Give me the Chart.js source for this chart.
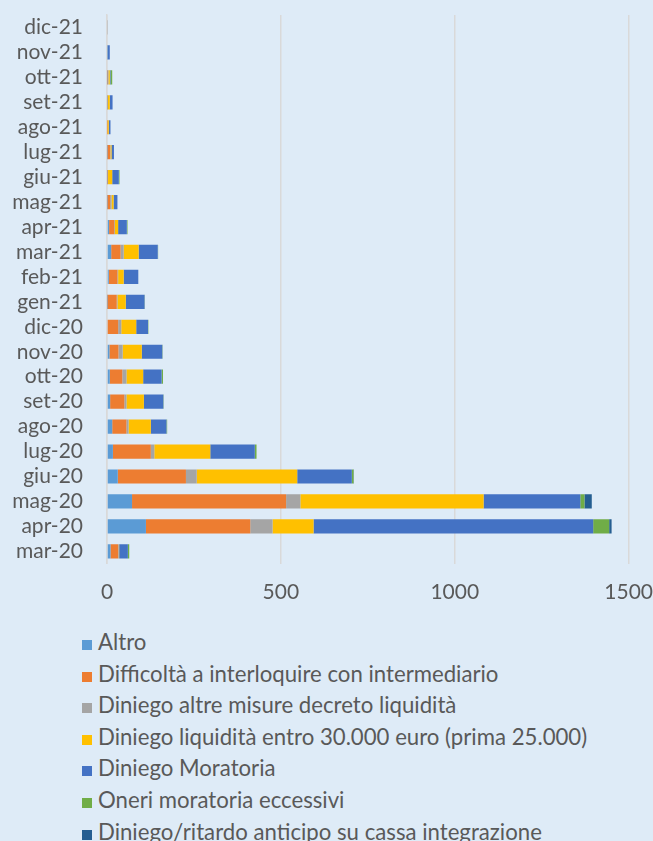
<!DOCTYPE html>
<html>
<head>
<meta charset="utf-8">
<script src="https://cdn.jsdelivr.net/npm/chart.js@4"></script>
<style>
  html, body { margin: 0; padding: 0; background: #DEEBF7; }
  #wrap { position: relative; width: 653px; height: 613px; }
  #legend { position: absolute; left: 82px; top: 626px; font-family: Lato, sans-serif; font-size: 22.2px; color: #595959; }
  #legend div { height: 31.6px; line-height: 31.6px; white-space: nowrap; }
  #legend span { display: inline-block; width: 10px; height: 10px; margin-right: 6px; vertical-align: 0px; }
</style>
</head>
<body>
<div id="wrap"><canvas id="mychart"></canvas></div>
<div id="legend"></div>
<script>
const months = ['mar-20', 'apr-20', 'mag-20', 'giu-20', 'lug-20', 'ago-20', 'set-20', 'ott-20', 'nov-20', 'dic-20', 'gen-21', 'feb-21',
    'mar-21', 'apr-21', 'mag-21', 'giu-21', 'lug-21', 'ago-21', 'set-21', 'ott-21', 'nov-21', 'dic-21'];

const altro       = [10, 112, 72, 31, 17, 15, 9, 8, 7, 2, 1, 5, 12, 6, 1, 1, 1, 0, 1, 1, 1, 0];
const difficolta  = [22, 300, 443, 196, 109, 41, 41, 36, 26, 30, 27, 25, 27, 15, 8, 2, 8, 1, 1, 2, 0, 0];
const altreMisure = [2, 64, 41, 31, 10, 6, 6, 12, 12, 9, 2, 2, 9, 2, 4, 0, 1, 0, 0, 1, 1, 1];
const liquidita   = [1, 118, 527, 289, 161, 64, 50, 48, 55, 43, 24, 16, 43, 9, 6, 12, 3, 4, 6, 4, 0, 0];
const moratoria   = [25, 804, 278, 157, 128, 45, 56, 53, 59, 34, 54, 42, 55, 25, 11, 19, 7, 5, 8, 2, 6, 0];
const oneri       = [4, 46, 12, 5, 5, 2, 1, 4, 1, 1, 1, 0, 1, 2, 0, 2, 0, 0, 0, 5, 0, 0];
const cassaInt    = [0, 7, 21, 1, 0, 0, 0, 0, 0, 0, 0, 0, 0, 0, 0, 0, 0, 0, 0, 0, 0, 0];

const xTicks = [0, 500, 1000, 1500];

const series = [
    ['Altro', altro, '#5B9BD5'],
    ['Difficoltà a interloquire con intermediario', difficolta, '#ED7D31'],
    ['Diniego altre misure decreto liquidità', altreMisure, '#A5A5A5'],
    ['Diniego liquidità entro 30.000 euro (prima 25.000)', liquidita, '#FFC000'],
    ['Diniego Moratoria', moratoria, '#4472C4'],
    ['Oneri moratoria eccessivi', oneri, '#70AD47'],
    ['Diniego/ritardo anticipo su cassa integrazione', cassaInt, '#255E91'],
];

const textColor = '#595959';
const tickFont = { family: 'Lato', size: 21 };

var chart = new Chart(document.getElementById('mychart'), {
    type: 'bar',
    data: {
        labels: months,
        datasets: series.map(s => ({
            label: s[0],
            data: s[1],
            backgroundColor: s[2],
            borderWidth: 0,
            categoryPercentage: 1,
            barPercentage: 0.57,
        })),
    },
    options: {
        indexAxis: 'y',
        responsive: true,
        maintainAspectRatio: false,
        animation: false,
        layout: { padding: { top: 15, right: 8, left: 0, bottom: 8 } },
        plugins: {
            legend: { display: false },
            tooltip: { enabled: false },
        },
        scales: {
            x: {
                stacked: true,
                min: 0,
                max: 1500,
                afterBuildTicks: axis => { axis.ticks = xTicks.map(v => ({ value: v })); },
                grid: { color: '#D9D9D9', lineWidth: 1.5, drawTicks: true, tickLength: 16, tickColor: 'transparent' },
                border: { display: false },
                ticks: { color: textColor, font: tickFont, padding: 0, callback: v => String(v) },
            },
            y: {
                stacked: true,
                reverse: true,
                grid: { display: false, drawTicks: true, tickLength: 24, tickColor: 'transparent' },
                border: { color: '#D9D9D9', width: 1.5 },
                ticks: { color: textColor, font: tickFont, padding: 0, autoSkip: false },
                afterFit: axis => { axis.width = 107; },
            },
        },
    },
});

const legend = document.getElementById('legend');
chart.data.datasets.forEach(ds => {
    const row = document.createElement('div');
    const sw = document.createElement('span');
    sw.style.background = ds.backgroundColor;
    row.appendChild(sw);
    row.appendChild(document.createTextNode(ds.label));
    legend.appendChild(row);
});
</script>
</body>
</html>
